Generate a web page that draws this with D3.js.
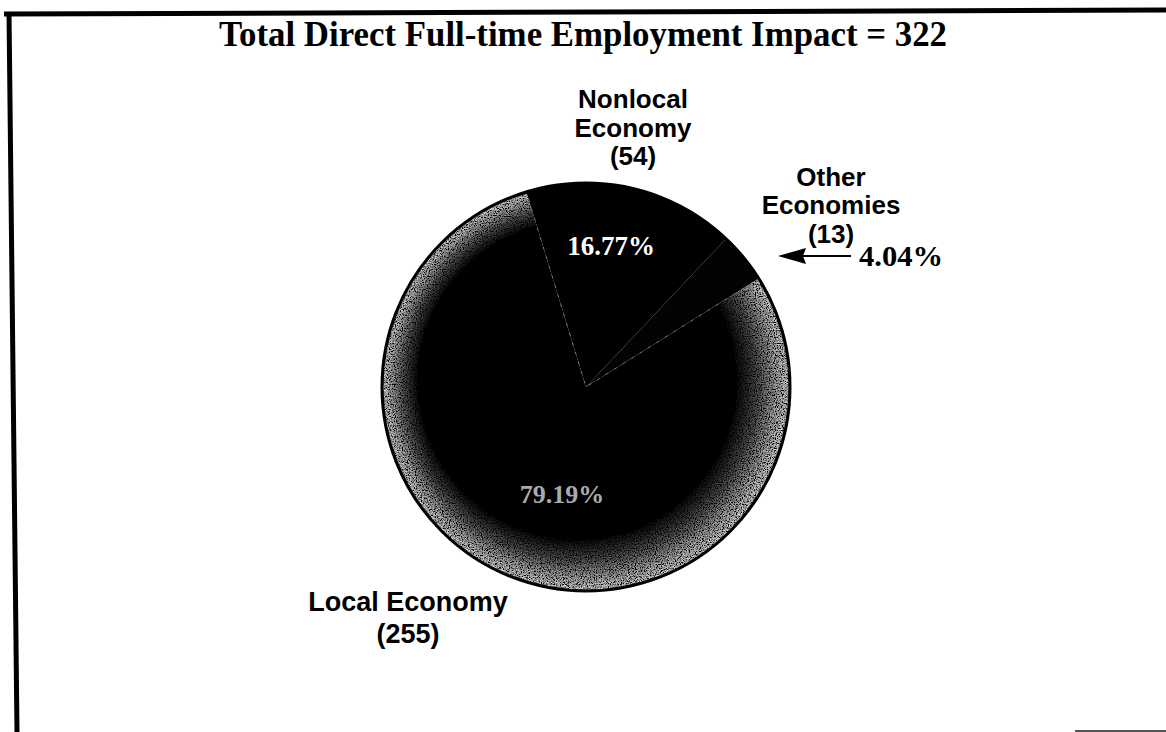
<!DOCTYPE html>
<html>
<head>
<meta charset="utf-8">
<script src="https://cdn.jsdelivr.net/npm/d3@7/dist/d3.min.js"></script>
<style>
  html, body { margin: 0; padding: 0; background: #fff; }
  svg { display: block; }
</style>
</head>
<body>
<svg id="chart" width="1166" height="732"></svg>
<script>
// ---- data ----
const title = "Total Direct Full-time Employment Impact = 322";
const categories = ["Nonlocal Economy", "Other Economies", "Local Economy"];
const values = [54, 13, 255];
const percentLabels = ["16.77%", "4.04%", "79.19%"];
const labelLines = [["Nonlocal", "Economy", "(54)"], ["Other", "Economies", "(13)"], ["Local Economy", "(255)"]];

// ---- layout ----
const W = 1166, H = 732;
const cx = 586, cy = 387, R = 204;
const svg = d3.select("#chart");

// frame (scanned border)
svg.append("line").attr("x1", 4).attr("y1", 14).attr("x2", 1166).attr("y2", 10)
  .attr("stroke", "#000").attr("stroke-width", 5);
svg.append("line").attr("x1", 9).attr("y1", 12).attr("x2", 17).attr("y2", 732)
  .attr("stroke", "#000").attr("stroke-width", 5);
svg.append("line").attr("x1", 1075).attr("y1", 731).attr("x2", 1166).attr("y2", 731)
  .attr("stroke", "#555").attr("stroke-width", 2);

// title
const serif = "'Liberation Serif', 'Times New Roman', serif";
svg.append("text").attr("x", 583).attr("y", 46).attr("text-anchor", "middle")
  .attr("font-family", serif)
  .attr("font-weight", "bold").attr("font-size", 35)
  .attr("textLength", 728).attr("lengthAdjust", "spacingAndGlyphs")
  .text(title);

// defs: gradient and noise (gradient in the pie group's local coordinates)
const defs = svg.append("defs");
const grad = defs.append("radialGradient").attr("id", "rimGrad")
  .attr("gradientUnits", "userSpaceOnUse")
  .attr("cx", 0).attr("cy", 0).attr("r", R)
  .attr("fx", -40).attr("fy", -30);
[[0, "#000"], [0.78, "#020202"], [0.87, "#3c3c3c"], [0.94, "#7a7a7a"], [1, "#a2a2a2"]]
  .forEach(([o, c]) => grad.append("stop").attr("offset", o).attr("stop-color", c));

const filt = defs.append("filter").attr("id", "speckle").attr("x", 0).attr("y", 0).attr("width", 1).attr("height", 1);
filt.append("feTurbulence").attr("type", "fractalNoise").attr("baseFrequency", 0.85)
  .attr("numOctaves", 2).attr("seed", 5).attr("result", "noise");
filt.append("feColorMatrix").attr("in", "noise").attr("type", "matrix")
  .attr("values", "3 0 0 0 -1  3 0 0 0 -1  3 0 0 0 -1  0 0 0 0 1").attr("result", "gray");
filt.append("feComposite").attr("in", "gray").attr("in2", "SourceGraphic").attr("operator", "arithmetic")
  .attr("k1", 2).attr("k2", 0).attr("k3", 0).attr("k4", 0).attr("result", "mix");
filt.append("feComposite").attr("in", "mix").attr("in2", "SourceGraphic").attr("operator", "in");

// pie
const startA = -17 * Math.PI / 180;
const pie = d3.pie().sort(null).value(d => d).startAngle(startA).endAngle(startA + 2 * Math.PI);
const arcs = pie(values);
const arc = d3.arc().innerRadius(0).outerRadius(R);
const fills = ["#000", "#030303", "url(#rimGrad)"];

const g = svg.append("g").attr("transform", `translate(${cx},${cy})`);
g.selectAll("path.slice").data(arcs).join("path").attr("class", "slice")
  .attr("d", arc)
  .attr("fill", (d, i) => fills[i])
  .attr("filter", (d, i) => i === 2 ? "url(#speckle)" : null);

// faint light seams along the local slice's edges
const seam = d3.arc().innerRadius(0).outerRadius(R - 2);
g.append("path").datum(arcs[2]).attr("d", seam)
  .attr("fill", "none").attr("stroke", "#777").attr("stroke-width", 1)
  .attr("stroke-dasharray", "3,7");

g.append("circle").attr("r", R).attr("fill", "none").attr("stroke", "#000").attr("stroke-width", 3);

// percent labels inside slices
g.append("text").attr("x", 25).attr("y", -132).attr("text-anchor", "middle")
  .attr("font-family", serif).attr("font-weight", "bold").attr("font-size", 27)
  .attr("fill", "#fff").text(percentLabels[0]);
g.append("text").attr("x", -24).attr("y", 116).attr("text-anchor", "middle")
  .attr("font-family", serif).attr("font-weight", "bold").attr("font-size", 26)
  .attr("fill", "#aaa").text(percentLabels[2]);

// other economies percent with arrow
svg.append("text").attr("x", 859).attr("y", 266).attr("text-anchor", "start")
  .attr("font-family", serif).attr("font-weight", "bold").attr("font-size", 30)
  .attr("textLength", 84).attr("lengthAdjust", "spacingAndGlyphs")
  .text(percentLabels[1]);
const arrowY = 256;
svg.append("line").attr("x1", 800).attr("y1", arrowY).attr("x2", 851).attr("y2", arrowY)
  .attr("stroke", "#000").attr("stroke-width", 2.2);
svg.append("path")
  .attr("d", d3.line()([[778, arrowY], [806, arrowY - 8], [803, arrowY], [806, arrowY + 8]]) + "Z")
  .attr("fill", "#000");

// category labels
const sans = "'Liberation Sans', Arial, Helvetica, sans-serif";
const labelPos = [
  { x: cx + 47, ys: [108, 137, 165], size: 26 },
  { x: cx + 245, ys: [186, 214, 243], size: 26 },
  { x: cx - 178, ys: [611, 643], size: 27 }
];
labelLines.forEach((lines, i) => {
  const t = svg.append("text").attr("text-anchor", "middle")
    .attr("font-family", sans).attr("font-weight", "bold").attr("font-size", labelPos[i].size)
    .attr("fill", "#000");
  lines.forEach((ln, j) => {
    t.append("tspan").attr("x", labelPos[i].x).attr("y", labelPos[i].ys[j]).text(ln);
  });
});
</script>
</body>
</html>
